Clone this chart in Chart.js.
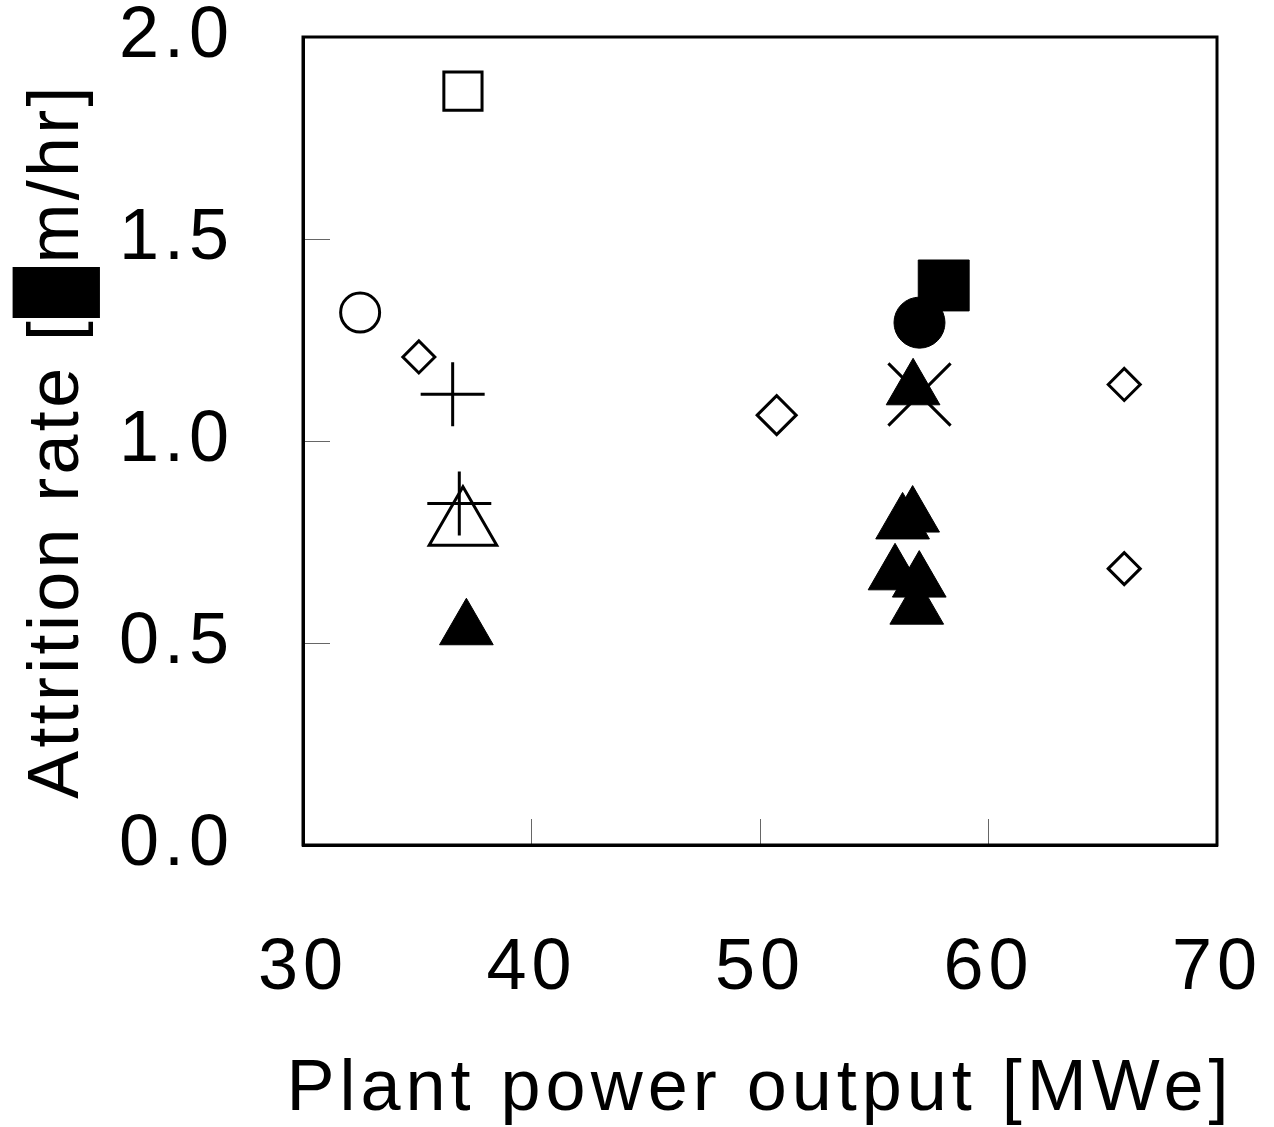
<!DOCTYPE html>
<html>
<head>
<meta charset="utf-8">
<script src="https://cdn.jsdelivr.net/npm/chart.js@4.4.1/dist/chart.umd.min.js"></script>
<style>
  body { margin: 0; background: #fff; }
  #wrap { width: 1274px; height: 1127px; }
</style>
</head>
<body>
<div id="wrap"><canvas id="attritionChart" width="1274" height="1127"></canvas></div>
<script>
// values: x = plant power output [MWe], y = attrition rate
var openSquare = [{x: 37.0, y: 1.866}];
var openCircle = [{x: 32.5, y: 1.318}];
var openDiamond = [{x: 35.07, y: 1.208}, {x: 50.73, y: 1.064}, {x: 65.94, y: 1.140}, {x: 65.94, y: 0.684}];
var plusMarks = [{x: 36.55, y: 1.116}, {x: 36.84, y: 0.845}];
var openTriangle = [{x: 37.0, y: 0.790}];
var filledTriangle = [
    {x: 37.15, y: 0.534}, {x: 56.70, y: 1.128}, {x: 56.24, y: 0.796}, {x: 56.68, y: 0.813},
    {x: 55.91, y: 0.670}, {x: 56.97, y: 0.652}, {x: 56.86, y: 0.585}
];
var filledSquare = [{x: 58.04, y: 1.385}];
var filledCircle = [{x: 56.98, y: 1.293}];
var crossMarks = [{x: 56.98, y: 1.115}];

var xTicks = [30, 40, 50, 60, 70];
var yTicks = [0, 0.5, 1.0, 1.5, 2.0];
var xTitle = 'Plant power output [MWe]';
var yTitle = 'Attrition rate [\u2588m/hr]';

var FONT = 'Liberation Sans';

// canvas letter spacing (the original text is slightly spaced out);
// titles are wider than the plot, so don't let fillText squeeze them
var spacing = {
    id: 'spacing',
    beforeInit: function(chart) {
        var c = chart.ctx, fill = c.fillText;
        c.fillText = function(t, x, y) {
            if (t === yTitle) this.letterSpacing = '3.3px';
            fill.call(this, t, x, y);
            this.letterSpacing = '5px';
        };
    },
    beforeUpdate: function(chart) { chart.ctx.letterSpacing = '5px'; },
    beforeDraw: function(chart) { chart.ctx.letterSpacing = '5px'; }
};

// closed box round the plot area
var frame = {
    id: 'frame',
    afterDraw: function(chart) {
        var a = chart.chartArea, ctx = chart.ctx;
        ctx.save();
        ctx.strokeStyle = '#000';
        ctx.lineWidth = 3;
        ctx.strokeRect(a.left, a.top, a.right - a.left, a.bottom - a.top);
        ctx.restore();
    }
};

function noPad(scale) {
    scale.paddingTop = 0;
    scale.paddingBottom = 0;
    scale.paddingLeft = 0;
    scale.paddingRight = 0;
}

function marks(data, style, radius, filled, width) {
    return {
        data: data,
        pointStyle: style,
        pointRadius: radius,
        borderColor: '#000',
        backgroundColor: filled ? '#000' : 'rgba(0,0,0,0)',
        pointBorderWidth: width
    };
}

var ctx = document.getElementById('attritionChart');
var chart = new Chart(ctx, {
    type: 'scatter',
    data: {
        datasets: [
            marks(plusMarks, 'cross', 32, false, 3),
            marks(crossMarks, 'crossRot', 44, false, 3),
            marks(openSquare, 'rect', 27, false, 3),
            marks(openCircle, 'circle', 19.5, false, 3),
            Object.assign(marks(openDiamond, 'rectRot', 16, false, 3), {pointRadius: [16, 19.5, 16, 16]}),
            marks(openTriangle, 'triangle', 39, false, 3),
            marks(filledSquare, 'rect', 36, true, 1),
            marks(filledCircle, 'circle', 25.5, true, 1),
            marks(filledTriangle, 'triangle', 31, true, 1)
        ]
    },
    options: {
        responsive: false,
        animation: false,
        devicePixelRatio: 1,
        events: [],
        layout: { autoPadding: false, padding: { top: 37, right: 57, left: 0, bottom: 0 } },
        plugins: {
            legend: { display: false },
            tooltip: { enabled: false }
        },
        scales: {
            x: {
                type: 'linear',
                min: 30,
                max: 70,
                afterBuildTicks: function(scale) {
                    scale.ticks = xTicks.map(function(v) { return {value: v}; });
                },
                afterFit: function(scale) {
                    scale.height = 1127 - 845;
                    noPad(scale);
                },
                grid: { drawOnChartArea: false, drawTicks: true, tickLength: -26, color: '#666', lineWidth: 1 },
                border: { display: true, color: '#000', width: 3 },
                ticks: {
                    padding: 107,
                    color: '#000',
                    font: { family: FONT, size: 72 },
                    maxRotation: 0,
                    callback: function(v) { return String(v); }
                },
                title: {
                    display: true,
                    text: xTitle,
                    color: '#000',
                    font: { family: FONT, size: 72, lineHeight: 1 },
                    padding: { top: 0, bottom: 1 }
                }
            },
            y: {
                type: 'linear',
                min: 0,
                max: 2,
                afterBuildTicks: function(scale) {
                    scale.ticks = yTicks.map(function(v) { return {value: v}; });
                },
                afterFit: function(scale) {
                    scale.width = 303;
                    noPad(scale);
                },
                grid: { drawOnChartArea: false, drawTicks: true, tickLength: -27, color: '#666', lineWidth: 1 },
                border: { display: true, color: '#000', width: 3 },
                ticks: {
                    padding: 96,
                    color: '#000',
                    font: { family: FONT, size: 72 },
                    callback: function(v) { return v.toFixed(1); }
                },
                title: {
                    display: true,
                    text: yTitle,
                    color: '#000',
                    font: { family: FONT, size: 72, lineHeight: 1 },
                    padding: { top: 22, bottom: 0 }
                }
            }
        }
    },
    plugins: [spacing, frame]
});
</script>
</body>
</html>
